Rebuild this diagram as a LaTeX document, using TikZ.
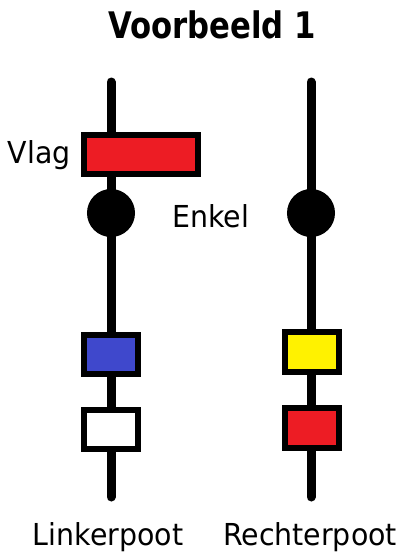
\documentclass[tikz,border=0pt]{standalone}
\usepackage{fontspec}
\setmainfont{DejaVu Sans}
\newfontfamily\titlefont[FakeStretch=0.84]{DejaVu Sans}
\newfontfamily\labelfont[FakeStretch=0.94]{DejaVu Sans}
\usepackage{tikz}
\usetikzlibrary{positioning}
\definecolor{flagred}{HTML}{ED1C24}
\definecolor{sockblue}{HTML}{3F48CC}
\definecolor{sockyellow}{HTML}{FFF200}
\begin{document}
\begin{tikzpicture}[
    x=0.025cm, y=-0.025cm,
    leg/.style={line width=6.4pt, line cap=round},
    flag/.style={draw, line width=4.3pt, minimum width=2.85cm, minimum height=0.975cm, inner sep=0pt},
    ring/.style={draw, line width=4.3pt, minimum width=1.37cm, minimum height=0.99cm, inner sep=0pt},
    ankle/.style={circle, fill=black, minimum size=1.2cm, inner sep=0pt},
    label/.style={font=\labelfont\fontsize{21.5pt}{26pt}\selectfont, inner sep=0pt}
]
\useasboundingbox (0,0) rectangle (405,552);

% Title
\node[font=\titlefont\bfseries\fontsize{26pt}{30pt}\selectfont, inner sep=0pt, anchor=base] (title) at (212,38) {Voorbeeld 1};

% Legs
\coordinate (ltop) at (111,82);
\coordinate (lbot) at (111,497);
\coordinate (rtop) at (311,82);
\coordinate (rbot) at (311,497);
\draw[leg] (ltop) -- (lbot);
\draw[leg] (rtop) -- (rbot);

% Left leg
\node[flag, fill=flagred] (flag) at (141,154.5) {};
\node[ankle] (lankle) at (111,213) {};
\node[ring, fill=sockblue] (lblue) at (111,354.5) {};
\node[ring, fill=white] (lwhite) at (111,429.5) {};

% Right leg
\node[ankle] (rankle) at (311,213) {};
\node[ring, fill=sockyellow] (ryellow) at (312,352) {};
\node[ring, fill=flagred] (rred) at (312,428) {};

% Labels
\node[label, anchor=base east] (vlag) at (71,163) {Vlag};
\node[label, anchor=base west] (enkel) at (172,227) {Enkel};
\node[label, anchor=base] (links) at (108,545) {Linkerpoot};
\node[label, anchor=base] (rechts) at (310,545) {Rechterpoot};

\end{tikzpicture}
\end{document}
